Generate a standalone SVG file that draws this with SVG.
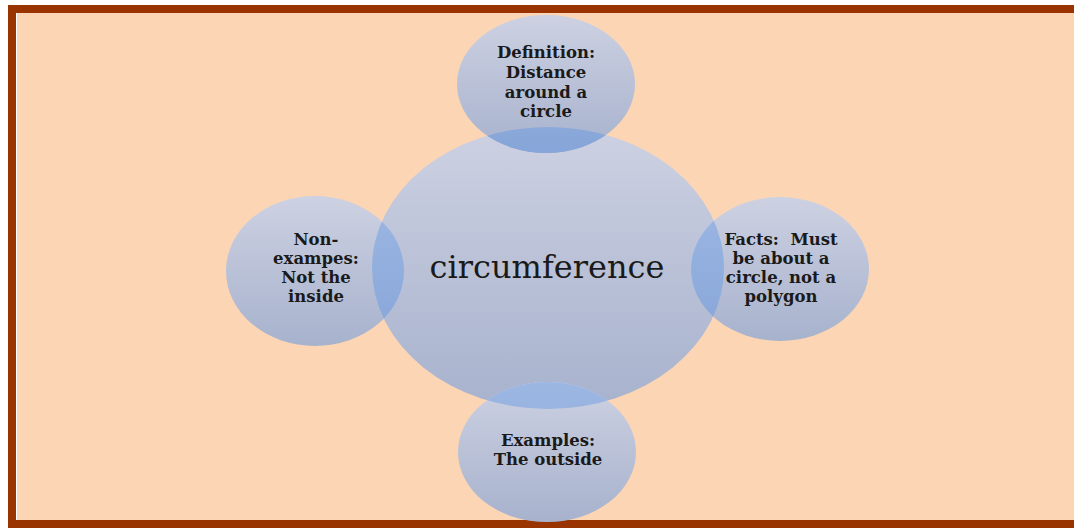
<svg xmlns="http://www.w3.org/2000/svg" width="1074" height="528" viewBox="0 0 1074 528">
<defs>
<linearGradient id="g" x1="0" y1="0" x2="0" y2="1">
<stop offset="0" stop-color="#CDD1E2"/>
<stop offset="1" stop-color="#A7B2CD"/>
</linearGradient>
<linearGradient id="gb" x1="0" y1="0" x2="0" y2="1">
<stop offset="0" stop-color="#9DB7E3"/>
<stop offset="1" stop-color="#86A5D8"/>
</linearGradient>
<clipPath id="cc"><ellipse cx="548" cy="268" rx="176" ry="141"/></clipPath>
<style>
.n{fill:url(#g);}
.o{fill:url(#gb);}
.t{font-family:"DejaVu Serif","Liberation Serif",serif;font-weight:bold;font-size:16.5px;fill:#1a1a1a;text-anchor:middle;}
.c{font-family:"DejaVu Serif","Liberation Serif",serif;font-size:32px;fill:#1a1a1a;text-anchor:middle;}
</style>
</defs>
<rect x="0" y="0" width="1074" height="528" fill="#FFFFFF"/>
<rect x="8" y="5" width="1066" height="523" fill="#993300"/>
<rect x="16" y="13" width="1058" height="507" fill="#FFFFFF"/>
<rect x="17" y="13" width="1057" height="507" fill="#FCD5B5"/>
<g id="center">
<ellipse class="n" cx="548" cy="268" rx="176" ry="141"/>
<text class="c" x="547" y="278">circumference</text>
</g>
<g id="top">
<ellipse class="n" cx="546" cy="84" rx="89" ry="69"/>
<ellipse class="o" cx="546" cy="84" rx="89" ry="69" clip-path="url(#cc)"/>
<text class="t" x="546" y="58">Definition:</text>
<text class="t" x="546" y="78">Distance</text>
<text class="t" x="546" y="98">around a</text>
<text class="t" x="546" y="117">circle</text>
</g>
<g id="left">
<ellipse class="n" cx="315" cy="271" rx="89" ry="75"/>
<ellipse class="o" cx="315" cy="271" rx="89" ry="75" clip-path="url(#cc)"/>
<text class="t" x="316" y="245">Non-</text>
<text class="t" x="316" y="264">exampes:</text>
<text class="t" x="316" y="283">Not the</text>
<text class="t" x="316" y="302">inside</text>
</g>
<g id="right">
<ellipse class="n" cx="780" cy="269" rx="89" ry="72"/>
<ellipse class="o" cx="780" cy="269" rx="89" ry="72" clip-path="url(#cc)"/>
<text class="t" x="781" y="245" xml:space="preserve">Facts:  Must</text>
<text class="t" x="781" y="264">be about a</text>
<text class="t" x="781" y="283">circle, not a</text>
<text class="t" x="781" y="302">polygon</text>
</g>
<g id="bottom">
<ellipse class="n" cx="547" cy="452" rx="89" ry="70"/>
<ellipse class="o" cx="547" cy="452" rx="89" ry="70" clip-path="url(#cc)"/>
<text class="t" x="548" y="446">Examples:</text>
<text class="t" x="548" y="465">The outside</text>
</g>
<g id="connectors"/>
</svg>
